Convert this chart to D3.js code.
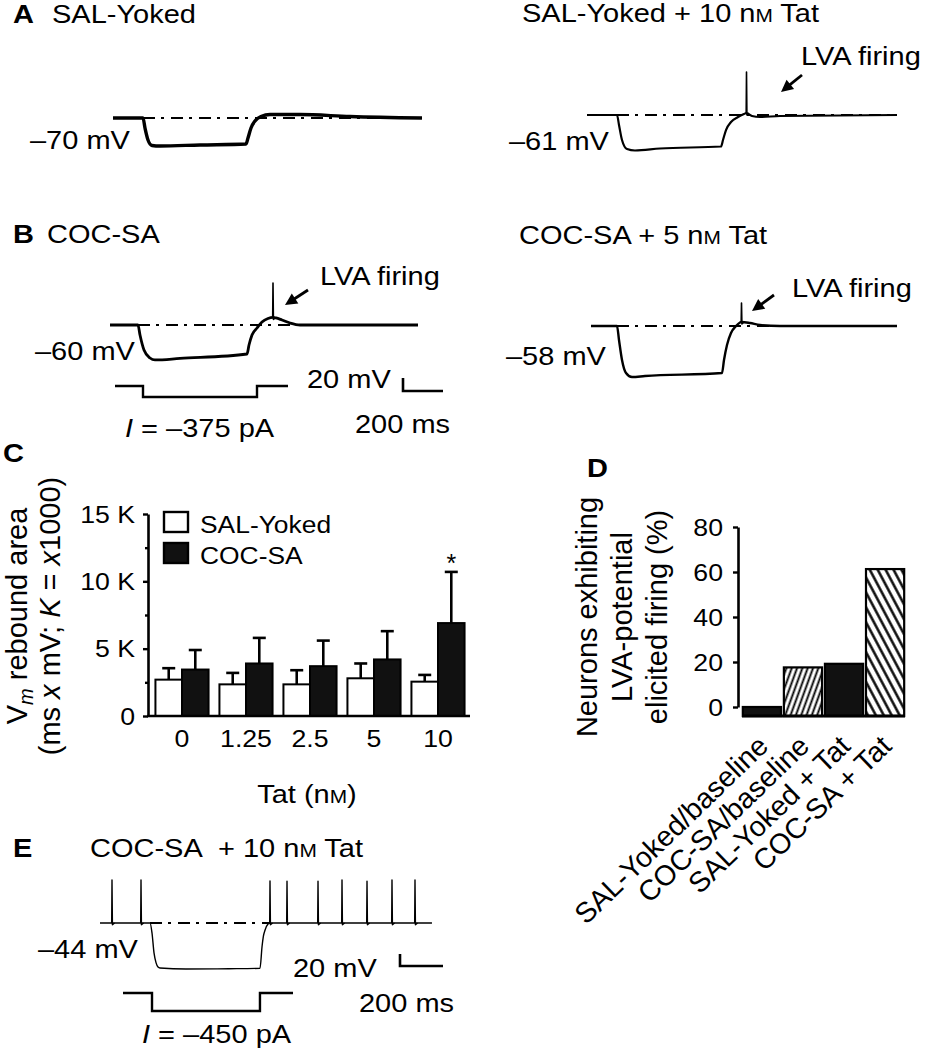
<!DOCTYPE html>
<html>
<head>
<meta charset="utf-8">
<script src="https://cdn.jsdelivr.net/npm/d3@7/dist/d3.min.js"></script>
<style>
html,body{margin:0;padding:0;background:#fff;}
svg{display:block;}
text{font-family:"Liberation Sans",Arial,Helvetica,sans-serif;fill:#000;}
</style>
</head>
<body>
<svg id="fig" width="928" height="1050"></svg>
<script>
// ================= DATA =================
// Panel C : Vm rebound area (ms x mV)
const tatDoses     = ["0","1.25","2.5","5","10"];
const groupNames   = ["SAL-Yoked","COC-SA"];
const salYokedMean = [2700,2350,2350,2800,2550];
const salYokedSem  = [850,850,1050,1100,500];
const cocSaMean    = [3450,3900,3700,4200,6900];
const cocSaSem     = [1450,1900,1900,2100,3800];
const significant  = [false,false,false,false,true];
const yTicksC      = [0,5000,10000,15000];
const yTickLabelsC = ["0","5 K","10 K","15 K"];
const yMinorTicksC = [2500,7500,12500];

// Panel D : % neurons with LVA-potential elicited firing
const conditionsD  = ["SAL-Yoked/baseline","COC-SA/baseline","SAL-Yoked + Tat","COC-SA + Tat"];
const percentLVA   = [0,17.6,19.2,61.3];
const yTicksD      = [0,20,40,60,80];

// Voltage traces : [time ms, Vm mV]
const traceA1 = [[0,-70],[150,-70],[160,-85.4],[175,-103.8],[195,-112.3],[235,-113.1],[435,-111.5],[665,-110],[675,-100.8],[690,-85.4],[710,-74.6],[740,-67.7],[785,-64.6],[935,-64.6],[1185,-67.7],[1545,-70]];
const traceA2 = [[0,-61],[150,-61],[160,-76.4],[175,-99.5],[200,-113.3],[240,-115.6],[365,-112.5],[670,-109.5],[680,-99.5],[695,-84.1],[720,-71.8],[755,-64.1],[785,-59.5],[797,-58],[825,-62.5],[865,-64.1],[965,-62.5],[1550,-61]];
const spikesA2 = [[797.5,-58,5.2]];           // [time, base mV, peak mV]
const traceB1 = [[0,-60],[140,-60],[150,-75.4],[170,-98.5],[200,-110.8],[225,-113.8],[350,-111.5],[685,-104.6],[695,-90.8],[710,-75.4],[735,-64.6],[760,-55.4],[790,-50],[815,-48.3],[830,-49.2],[860,-52.3],[900,-56.9],[950,-60],[1540,-60]];
const spikesB1 = [[815,-48.3,4.6]];
const stepB1   = [[25,0],[165,0],[165,-375],[735,-375],[735,0],[890,0]];  // [ms, pA]
const traceB2 = [[0,-58],[130,-58],[140,-79.5],[155,-110.3],[175,-130.3],[205,-136.5],[270,-135],[655,-130.3],[665,-110.3],[680,-87.2],[700,-68.8],[725,-58],[745,-52.6],[752,-51.8],[795,-53.4],[845,-56.5],[945,-58],[1530,-58]];
const spikesB2 = [[752.5,-51.8,-22.6]];
const traceE  = [[0,-44],[232.6,-44],[241.9,-60.7],[251.2,-93.9],[260.5,-110],[269.8,-117.3],[279,-119],[400,-120.7],[600,-120.2],[744.2,-119.5],[753.5,-84],[760,-66],[767.4,-56],[781.4,-45.7],[790,-44],[1544,-44]];
const spikesE = [[55.8,-44,27.7],[190.7,-44,27.7],[790.7,-44,26],[869.8,-44,25.5],[1014,-44,25.5],[1125.6,-44,27.7],[1241.9,-44,25.5],[1358.1,-44,27.7],[1465.1,-44,27.7]];
const stepE   = [[107,0],[241.9,0],[241.9,-450],[744,-450],[744,0],[897.7,0]];
// LVA-firing arrows: [tail, head] in [ms, mV]
const arrowA2 = [[1075,0.5],[970,-25.6]];
const arrowB1 = [[990,-6.2],[875,-29.2]];
const arrowB2 = [[915,-10.3],[805,-34.9]];

// ================= DRAWING =================
const svg = d3.select("#fig");
const SX = 1.16;
const defs = svg.append("defs");

function htext(x, y, parts, opt = {}) {
  const t = svg.append("text")
    .attr("transform", `translate(${x},${y}) scale(${opt.sx ?? SX},1)`)
    .attr("font-size", opt.size ?? 25)
    .attr("text-anchor", opt.anchor ?? "start");
  if (opt.bold) t.attr("font-weight", "bold");
  if (typeof parts === "string") parts = [{t: parts}];
  parts.forEach(p => {
    const s = t.append("tspan").text(p.t);
    if (p.size) s.attr("font-size", p.size);
    if (p.italic) s.attr("font-style", "italic");
  });
  return t;
}

// ---------- traces ----------
function tracePanel(cfg) {
  const x = d3.scaleLinear().domain([0, 1000]).range([cfg.x0, cfg.x0 + 1000 * cfg.pxMs]);
  const y = d3.scaleLinear().domain([cfg.vRest, cfg.vRest - 100]).range([cfg.y0, cfg.y0 + 100 * cfg.pxMv]);
  const g = svg.append("g");
  const lin = d3.line().x(d => x(d[0])).y(d => y(d[1]));
  g.append("path").datum(cfg.dash.map(t => [t, cfg.vRest]))
    .attr("d", lin).attr("fill", "none").attr("stroke", "#000")
    .attr("stroke-width", 2).attr("stroke-dasharray", "12,6,3,7");
  g.append("path").datum(cfg.data)
    .attr("d", d3.line().x(d => x(d[0])).y(d => y(d[1])).curve(d3.curveMonotoneX))
    .attr("fill", "none").attr("stroke", "#000").attr("stroke-width", cfg.sw)
    .attr("stroke-linejoin", "round");
  g.selectAll("path.spike").data(cfg.spikes || []).join("path").attr("class", "spike")
    .attr("d", s => lin([[s[0] - 1.5, s[1]], [s[0], s[2]], [s[0] + 2, s[1] - 3], [s[0] + 12, s[1]]]))
    .attr("fill", "none").attr("stroke", "#000").attr("stroke-width", Math.min(cfg.sw, 1.6))
    .attr("stroke-linejoin", "round");
  if (cfg.arrow) {
    const p1 = [x(cfg.arrow[0][0]), y(cfg.arrow[0][1])];
    const p2 = [x(cfg.arrow[1][0]), y(cfg.arrow[1][1])];
    const L = Math.hypot(p2[0] - p1[0], p2[1] - p1[1]);
    const u = [(p2[0] - p1[0]) / L, (p2[1] - p1[1]) / L], n = [-u[1], u[0]];
    const hl = 12, hw = 6;
    g.append("line").attr("x1", p1[0]).attr("y1", p1[1])
      .attr("x2", p2[0] - u[0] * (hl - 2)).attr("y2", p2[1] - u[1] * (hl - 2))
      .attr("stroke", "#000").attr("stroke-width", 2.8);
    g.append("path").attr("d", `M${p2[0]},${p2[1]}L${p2[0] - u[0] * hl + n[0] * hw},${p2[1] - u[1] * hl + n[1] * hw}L${p2[0] - u[0] * hl - n[0] * hw},${p2[1] - u[1] * hl - n[1] * hw}Z`)
      .attr("fill", "#000");
  }
  if (cfg.step) {
    const yI = d3.scaleLinear().domain([0, cfg.step.min]).range(cfg.step.range);
    g.append("path").datum(cfg.step.data)
      .attr("d", d3.line().x(d => x(d[0])).y(d => yI(d[1])))
      .attr("fill", "none").attr("stroke", "#000").attr("stroke-width", 2.4);
  }
  if (cfg.bar) {
    const [cx, cy] = cfg.bar;
    const h = x(200) - x(0), v = y(cfg.vRest - 20) - y(cfg.vRest);
    g.append("path").attr("d", `M${cx},${cy - v}V${cy}H${cx + h}`)
      .attr("fill", "none").attr("stroke", "#000").attr("stroke-width", 2.6);
  }
  return {x, y, g};
}

tracePanel({data: traceA1, spikes: [], x0: 113, y0: 118, vRest: -70, pxMs: 0.2, pxMv: 0.65, sw: 3.4, dash: [150, 1545]});
tracePanel({data: traceA2, spikes: spikesA2, arrow: arrowA2, x0: 587, y0: 115, vRest: -61, pxMs: 0.2, pxMv: 0.65, sw: 2.2, dash: [150, 1550]});
tracePanel({data: traceB1, spikes: spikesB1, arrow: arrowB1, x0: 110, y0: 325, vRest: -60, pxMs: 0.2, pxMv: 0.65, sw: 2.8, dash: [140, 1540],
  step: {data: stepB1, min: -375, range: [386, 397]}, bar: [403, 391]});
tracePanel({data: traceB2, spikes: spikesB2, arrow: arrowB2, x0: 591, y0: 326, vRest: -58, pxMs: 0.2, pxMv: 0.65, sw: 2.4, dash: [130, 1530]});
tracePanel({data: traceE, spikes: spikesE, x0: 100, y0: 923, vRest: -44, pxMs: 0.215, pxMv: 0.6, sw: 1.4, dash: [232.6, 790],
  step: {data: stepE, min: -450, range: [993, 1011]}, bar: [400, 966]});

// trace texts
htext(13, 23, "A", {bold: true});
htext(52, 23, "SAL-Yoked");
htext(30, 149, "–70 mV");
htext(522, 22, [{t: "SAL-Yoked + 10 n"}, {t: "M", size: 18}, {t: " Tat"}]);
htext(801, 65, "LVA firing");
htext(509, 150, "–61 mV");
htext(13, 243, "B", {bold: true});
htext(47, 243, "COC-SA");
htext(320, 285, "LVA firing");
htext(35, 360, "–60 mV");
htext(307, 388, "20 mV");
htext(355, 433, "200 ms");
htext(125, 437, [{t: "I", italic: true}, {t: " = –375 pA"}]);
htext(519, 244, [{t: "COC-SA + 5 n"}, {t: "M", size: 18}, {t: " Tat"}]);
htext(792, 297, "LVA firing");
htext(506, 365, "–58 mV");
htext(13, 857, "E", {bold: true});
htext(90, 857, "COC-SA");
htext(218, 857, [{t: "+ 10 n"}, {t: "M", size: 18}, {t: " Tat"}]);
htext(38, 958, "–44 mV");
htext(293, 977, "20 mV");
htext(359, 1012, "200 ms");
htext(142, 1043, [{t: "I", italic: true}, {t: " = –450 pA"}]);

// ---------- Panel C ----------
htext(3, 462, "C", {bold: true});
const yC = d3.scaleLinear().domain([0, 15000]).range([716, 514]);
const x0C = d3.scaleBand().domain(tatDoses).range([150, 470]).paddingInner(0.17).paddingOuter(0.085);
const x1C = d3.scaleBand().domain(groupNames).range([0, x0C.bandwidth()]);
const rowsC = tatDoses.map((d, i) => ({dose: d, vals: [
  {grp: groupNames[0], mean: salYokedMean[i], sem: salYokedSem[i]},
  {grp: groupNames[1], mean: cocSaMean[i], sem: cocSaSem[i], sig: significant[i]}]}));
const gC = svg.append("g");
const grpC = gC.selectAll("g.dose").data(rowsC).join("g").attr("class", "dose")
  .attr("transform", d => `translate(${x0C(d.dose)},0)`);
const barC = grpC.selectAll("g.bar").data(d => d.vals).join("g").attr("class", "bar");
barC.append("line")
  .attr("x1", d => x1C(d.grp) + x1C.bandwidth() / 2).attr("x2", d => x1C(d.grp) + x1C.bandwidth() / 2)
  .attr("y1", d => yC(d.mean)).attr("y2", d => yC(d.mean + d.sem))
  .attr("stroke", "#000").attr("stroke-width", 2.6);
barC.append("line")
  .attr("x1", d => x1C(d.grp) + x1C.bandwidth() / 2 - 6.5).attr("x2", d => x1C(d.grp) + x1C.bandwidth() / 2 + 6.5)
  .attr("y1", d => yC(d.mean + d.sem)).attr("y2", d => yC(d.mean + d.sem))
  .attr("stroke", "#000").attr("stroke-width", 2.6);
barC.append("rect")
  .attr("x", d => x1C(d.grp)).attr("width", x1C.bandwidth())
  .attr("y", d => yC(d.mean)).attr("height", d => yC(0) - yC(d.mean))
  .attr("fill", (d, i) => i === 0 ? "#fff" : "#111").attr("stroke", "#000").attr("stroke-width", 2);
barC.filter(d => d.sig).append("text")
  .attr("x", d => x1C(d.grp) + x1C.bandwidth() / 2).attr("y", d => yC(d.mean + d.sem))
  .attr("text-anchor", "middle").attr("font-size", 25).text("*");

const axC = gC.append("g").attr("transform", "translate(148,0)")
  .call(d3.axisLeft(yC).tickValues(yTicksC).tickFormat((d, i) => yTickLabelsC[i]).tickSize(5).tickSizeOuter(0));
axC.select(".domain").attr("stroke-width", 2.6);
axC.selectAll(".tick line").attr("stroke-width", 2.4);
axC.selectAll(".tick text").attr("x", null).attr("dy", null).attr("font-size", 23)
  .attr("transform", `translate(-13,8.2) scale(${SX},1)`);
const axCm = gC.append("g").attr("transform", "translate(148,0)")
  .call(d3.axisLeft(yC).tickValues(yMinorTicksC).tickFormat("").tickSize(3).tickSizeOuter(0));
axCm.select(".domain").remove();
axCm.selectAll(".tick line").attr("stroke-width", 2.4);
gC.append("line").attr("x1", 147).attr("x2", 470).attr("y1", yC(0)).attr("y2", yC(0))
  .attr("stroke", "#000").attr("stroke-width", 2.6);
const axCx = gC.append("g").attr("transform", `translate(0,${yC(0)})`)
  .call(d3.axisBottom(x0C).tickSize(0).tickSizeOuter(0));
axCx.select(".domain").remove();
axCx.selectAll(".tick text").attr("y", null).attr("dy", null).attr("font-size", 23)
  .attr("transform", `translate(0,31) scale(${SX},1)`);
htext(307, 803, [{t: "Tat (n"}, {t: "M", size: 18}, {t: ")"}], {anchor: "middle"});
// legend
const legC = gC.selectAll("g.leg").data(groupNames).join("g").attr("class", "leg")
  .attr("transform", (d, i) => `translate(164,${512 + i * 31})`);
legC.append("rect").attr("width", 24).attr("height", 20)
  .attr("fill", (d, i) => i === 0 ? "#fff" : "#111").attr("stroke", "#000").attr("stroke-width", 2.4);
legC.append("text").attr("transform", `translate(36,21) scale(1.1,1)`).attr("font-size", 24).text(d => d);
// y label
const ylC = svg.append("text").attr("transform", "translate(27,616) rotate(-90)")
  .attr("text-anchor", "middle").attr("font-size", 29);
ylC.append("tspan").text("V");
ylC.append("tspan").text("m").attr("font-style", "italic").attr("font-size", 20).attr("dy", 6);
ylC.append("tspan").text(" rebound area").attr("dy", -6);
const ylC2 = svg.append("text").attr("transform", "translate(60,616) rotate(-90)")
  .attr("text-anchor", "middle").attr("font-size", 29);
[["(ms ", 0], ["x", 1], [" mV; ", 0], ["K", 1], [" = ", 0], ["x", 1], ["1000)", 0]].forEach(p => {
  const s = ylC2.append("tspan").text(p[0]);
  if (p[1]) s.attr("font-style", "italic");
});

// ---------- Panel D ----------
htext(587, 477, "D", {bold: true});
defs.append("pattern").attr("id", "hatchR").attr("patternUnits", "userSpaceOnUse")
  .attr("width", 5).attr("height", 10).attr("patternTransform", "rotate(20)")
  .append("line").attr("x1", 2.5).attr("x2", 2.5).attr("y1", -1).attr("y2", 11)
  .attr("stroke", "#000").attr("stroke-width", 1.9);
defs.select("#hatchR").insert("rect", "line").attr("width", 5).attr("height", 10).attr("fill", "#fff");
defs.append("pattern").attr("id", "hatchL").attr("patternUnits", "userSpaceOnUse")
  .attr("width", 7).attr("height", 10).attr("patternTransform", "rotate(-28)")
  .append("line").attr("x1", 3.5).attr("x2", 3.5).attr("y1", -1).attr("y2", 11)
  .attr("stroke", "#000").attr("stroke-width", 2.4);
defs.select("#hatchL").insert("rect", "line").attr("width", 7).attr("height", 10).attr("fill", "#fff");
const fillD = ["#111", "url(#hatchR)", "#111", "url(#hatchL)"];

const yD = d3.scaleLinear().domain([0, 80]).range([707, 527]);
const xD = d3.scaleBand().domain(conditionsD).range([742, 905]).paddingInner(0.07).paddingOuter(0.02);
const baseD = 716;
const gD = svg.append("g");
gD.selectAll("rect.bar").data(conditionsD).join("rect").attr("class", "bar")
  .attr("x", d => xD(d)).attr("width", xD.bandwidth())
  .attr("y", (d, i) => yD(percentLVA[i])).attr("height", (d, i) => baseD - yD(percentLVA[i]))
  .attr("fill", (d, i) => fillD[i]).attr("stroke", "#000").attr("stroke-width", 2.2);
gD.append("line").attr("x1", 742).attr("x2", 905).attr("y1", baseD).attr("y2", baseD)
  .attr("stroke", "#000").attr("stroke-width", 3);
const axD = gD.append("g").attr("transform", "translate(738,0)")
  .call(d3.axisLeft(yD).tickValues(yTicksD).tickSize(5).tickSizeOuter(0));
axD.select(".domain").attr("stroke-width", 2.6);
axD.selectAll(".tick line").attr("stroke-width", 2.4);
axD.selectAll(".tick text").attr("x", null).attr("dy", null).attr("font-size", 23)
  .attr("transform", `translate(-15,8.2) scale(${SX},1)`);
gD.selectAll("text.xl").data(conditionsD).join("text").attr("class", "xl")
  .attr("transform", d => `translate(${xD(d) + xD.bandwidth() / 2 + 8},748) rotate(-44)`)
  .attr("text-anchor", "end").attr("font-size", 28.5).text(d => d);
["Neurons exhibiting", "LVA-potential", "elicited firing (%)"].forEach((s, i) => {
  svg.append("text").attr("transform", `translate(${597 + i * 35},617) rotate(-90)`)
    .attr("text-anchor", "middle").attr("font-size", 29).text(s);
});
</script>
</body>
</html>
